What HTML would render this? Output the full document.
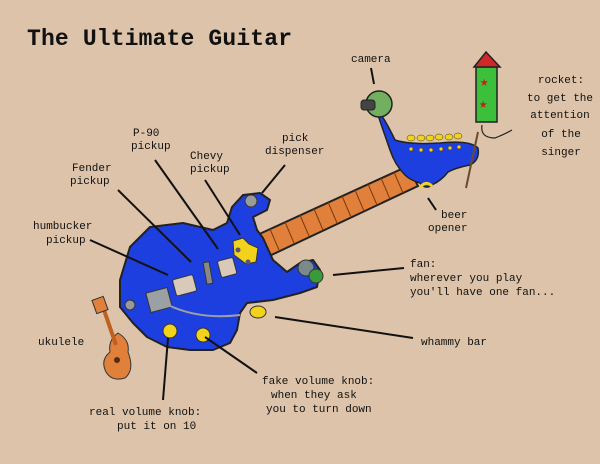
<!DOCTYPE html>
<html><head><meta charset="utf-8"><style>
html,body{margin:0;padding:0;background:#dcc3a9;}
svg{display:block}
text{font-family:"Liberation Mono",monospace;font-size:11px;fill:#111}
</style></head><body>
<svg width="600" height="464" viewBox="0 0 600 464">
<rect width="600" height="464" fill="#dcc3a9"/>
<text x="27" y="45" textLength="265" style="font-size:23px;font-weight:bold">The Ultimate Guitar</text>

<!-- neck -->
<path d="M255,236 L408,166 L418,186 L265,258 Z" fill="#e0803a" stroke="#222" stroke-width="2"/>
<g stroke="#7a3a10" stroke-width="1">
<line x1="270" y1="229" x2="279" y2="250"/><line x1="285" y1="222" x2="294" y2="243"/>
<line x1="300" y1="215" x2="309" y2="236"/><line x1="314" y1="209" x2="323" y2="230"/>
<line x1="328" y1="202" x2="337" y2="223"/><line x1="342" y1="196" x2="351" y2="217"/>
<line x1="355" y1="190" x2="364" y2="211"/><line x1="368" y1="184" x2="377" y2="205"/>
<line x1="381" y1="178" x2="390" y2="199"/><line x1="394" y1="172" x2="403" y2="193"/>
</g>
<!-- headstock -->
<path d="M380,113 Q388,125 395,140 Q410,145 440,143 Q470,140 478,148 Q480,160 470,165 Q455,168 448,172 Q442,180 432,185 Q425,190 420,183 Q410,180 405,175 Q395,165 390,150 Q383,130 378,115 Z" fill="#1e3fe0" stroke="#222" stroke-width="1.5"/>
<g fill="#f2d21a" stroke="#333" stroke-width=".5">
<ellipse cx="411" cy="138" rx="4" ry="3"/><ellipse cx="421" cy="138" rx="4" ry="3"/><ellipse cx="430" cy="138" rx="4" ry="3"/><ellipse cx="439" cy="137" rx="4" ry="3"/><ellipse cx="449" cy="137" rx="4" ry="3"/><ellipse cx="458" cy="136" rx="4" ry="3"/>
<circle cx="411" cy="149" r="2"/><circle cx="421" cy="150" r="2"/><circle cx="431" cy="150" r="2"/><circle cx="441" cy="149" r="2"/><circle cx="450" cy="148" r="2"/><circle cx="459" cy="147" r="2"/>
</g>
<path d="M420,188 Q425,180 432,186" fill="none" stroke="#f2d21a" stroke-width="3"/>
<!-- camera -->
<circle cx="379" cy="104" r="13" fill="#72b060" stroke="#222" stroke-width="1.5"/>
<rect x="361" y="100" width="14" height="10" rx="3" fill="#444" stroke="#222"/>
<!-- rocket -->
<line x1="478" y1="132" x2="466" y2="188" stroke="#6b4a2a" stroke-width="2"/>
<rect x="476" y="67" width="21" height="55" fill="#3cc03c" stroke="#222" stroke-width="1.5"/>
<path d="M474,67 L486,52 L500,67 Z" fill="#d02828" stroke="#222" stroke-width="1.5"/>
<text x="480" y="86" style="fill:#c02020;font-size:14px">★</text>
<text x="479" y="108" style="fill:#c02020;font-size:14px">★</text>
<path d="M482,125 Q480,138 495,138 Q505,134 512,130" fill="none" stroke="#222" stroke-width="1.2"/>
<!-- body -->
<path d="M120,280 L130,247 L150,227 L183,223 L213,230 L227,223 L232,207 L243,195 L260,193 L270,200 L267,210 L253,217 L257,230 L263,238 L273,260 L287,272 L300,263 L313,260 L320,270 L317,287 L300,293 L273,300 L247,303 L240,313 L237,330 L230,343 L213,350 L190,350 L167,347 L147,337 L133,323 L120,307 Z" fill="#1e3fe0" stroke="#222" stroke-width="2" stroke-linejoin="round"/>
<circle cx="251" cy="201" r="6" fill="#9a9a9a" stroke="#333"/>
<!-- chevy car -->
<path d="M233,241 L243,238 L249,244 L258,248 L256,262 L246,264 L234,255 Z" fill="#f2d21a" stroke="#333"/>
<circle cx="238" cy="250" r="2.5" fill="#557"/><circle cx="248" cy="262" r="2.5" fill="#557"/>
<!-- pickups -->
<rect x="219" y="259" width="16" height="17" rx="2" fill="#d8c9b8" stroke="#333" transform="rotate(-15 227 267)"/>
<rect x="205" y="262" width="6" height="22" fill="#888" stroke="#333" transform="rotate(-10 208 273)"/>
<rect x="174" y="277" width="21" height="17" rx="2" fill="#d8c9b8" stroke="#333" transform="rotate(-15 184 285)"/>
<rect x="148" y="290" width="22" height="20" fill="#9aa0a3" stroke="#333" transform="rotate(-15 159 300)"/>
<path d="M168,305 Q200,320 240,315" fill="none" stroke="#9aa0a3" stroke-width="2"/>
<ellipse cx="258" cy="312" rx="8" ry="6" fill="#f2d21a" stroke="#333"/>
<circle cx="170" cy="331" r="7" fill="#f2d21a" stroke="#333"/>
<circle cx="203" cy="335" r="7" fill="#f2d21a" stroke="#333"/>
<!-- fan -->
<circle cx="306" cy="268" r="8" fill="#7a8a8a" stroke="#333"/>
<circle cx="316" cy="276" r="7" fill="#3a9a3a" stroke="#333"/>
<!-- ukulele -->
<path d="M118,333 Q130,340 128,352 Q135,370 125,378 Q112,382 106,372 Q100,360 110,352 Q108,340 118,333 Z" fill="#e0803a" stroke="#333"/>
<line x1="116" y1="345" x2="104" y2="310" stroke="#c06020" stroke-width="4"/>
<rect x="94" y="298" width="12" height="14" fill="#e0803a" stroke="#333" transform="rotate(-20 100 305)"/>
<circle cx="117" cy="360" r="3" fill="#5a2a10"/>
<circle cx="130" cy="305" r="5" fill="#999" stroke="#333"/>
<!-- leader lines -->
<g stroke="#111" stroke-width="2" fill="none">
<line x1="90" y1="240" x2="168" y2="275"/>
<line x1="118" y1="190" x2="191" y2="262"/>
<line x1="155" y1="160" x2="218" y2="249"/>
<line x1="205" y1="180" x2="240" y2="235"/>
<line x1="285" y1="165" x2="262" y2="193"/>
<line x1="436" y1="210" x2="428" y2="198"/>
<line x1="371" y1="68" x2="374" y2="84"/>
<line x1="404" y1="268" x2="333" y2="275"/>
<line x1="413" y1="338" x2="275" y2="317"/>
<line x1="257" y1="373" x2="205" y2="337"/>
<line x1="163" y1="400" x2="168" y2="338"/>
</g>
<!-- labels -->
<text x="351" y="62">camera</text>
<g text-anchor="middle">
<text x="561" y="83">rocket:</text>
<text x="560" y="101">to get the</text>
<text x="560" y="118">attention</text>
<text x="561" y="137">of the</text>
<text x="561" y="155">singer</text>
</g>
<text x="133" y="136">P-90</text><text x="131" y="149">pickup</text>
<text x="190" y="159">Chevy</text><text x="190" y="172">pickup</text>
<text x="282" y="141">pick</text><text x="265" y="154">dispenser</text>
<text x="72" y="171">Fender</text><text x="70" y="184">pickup</text>
<text x="33" y="229">humbucker</text><text x="46" y="243">pickup</text>
<text x="441" y="218">beer</text><text x="428" y="231">opener</text>
<text x="410" y="267">fan:</text>
<text x="410" y="281">wherever you play</text>
<text x="410" y="295">you'll have one fan...</text>
<text x="421" y="345">whammy bar</text>
<text x="38" y="345">ukulele</text>
<text x="262" y="384">fake volume knob:</text>
<text x="271" y="398">when they ask</text>
<text x="266" y="412">you to turn down</text>
<text x="89" y="415">real volume knob:</text>
<text x="117" y="429">put it on 10</text>
</svg>
</body></html>
